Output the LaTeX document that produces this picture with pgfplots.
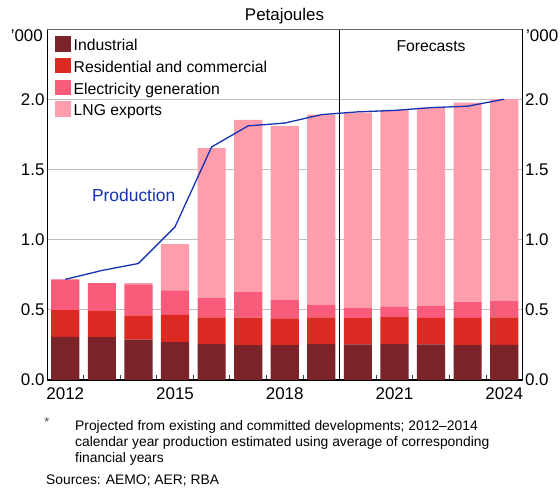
\documentclass[border=0pt]{standalone}
\usepackage{pgfplots}
\pgfplotsset{compat=1.18}
\usepackage{fontspec}
\setmainfont{Liberation Sans}
\definecolor{ind}{HTML}{7A2329}
\definecolor{res}{HTML}{DC2921}
\definecolor{ele}{HTML}{F95B7B}
\definecolor{lng}{HTML}{FE9DAB}
\definecolor{prod}{HTML}{1432B4}
\newcommand{\mainf}{\fontsize{15.8}{18}\selectfont}
\newcommand{\tickf}{\fontsize{17}{20}\selectfont}
\newcommand{\notef}{\fontsize{13.9}{16}\selectfont}
\pgfplotsset{
  sqleg/.style={legend image code/.code={\fill[##1] (0bp,-5bp) rectangle (15.5bp,10.5bp);}},
  common/.style={
    at={(47bp,108bp)}, anchor=south west,
    scale only axis, width=475.5bp, height=351bp,
    xmin=-0.5, xmax=12.5, ymin=0, ymax=2.5,
    axis line style={-, black, line width=0.8bp},
    ytick={0,0.5,1,1.5,2},
    yticklabel style={/pgf/number format/fixed, /pgf/number format/fixed zerofill, /pgf/number format/precision=1},
    /pgf/number format/assume math mode=true,
    tick label style={font=\tickf},
    major tick length=0pt,
  }
}
\begin{document}
\begin{tikzpicture}
\path[use as bounding box] (0bp,0bp) rectangle (560bp,488bp);
\begin{axis}[
  common,
  ybar stacked, bar width=0.77,
  axis x line*=bottom, axis y line*=left,
  xtick={0,3,6,9,12}, xticklabels={2012,2015,2018,2021,2024},
  minor xtick={0.5,1.5,...,11.5},
  minor tick length=5bp, tick align=inside,
  minor tick style={black!75, line width=0.8bp},
  xticklabel style={/tikz/yshift=-4.5bp},
  yticklabel style={/tikz/xshift=1bp},
  ymajorgrids, grid style={black!25, line width=0.8bp},
  legend style={at={(rel axis cs:0,1)}, anchor=north west, xshift=8bp, yshift=-7bp,
    draw=none, fill=none, inner sep=0pt, font=\mainf,
    nodes={inner sep=0pt, text height=11.5bp, text depth=3.5bp},
    row sep=3.7bp, column sep=3bp},
  legend cell align=left,
]
\addplot[fill=ind, draw=none, sqleg] coordinates {(0,0.308) (1,0.306) (2,0.287) (3,0.270) (4,0.256) (5,0.249) (6,0.249) (7,0.256) (8,0.254) (9,0.256) (10,0.254) (11,0.249) (12,0.251)};
\addlegendentry{Industrial}
\addplot[fill=res, draw=none, sqleg] coordinates {(0,0.190) (1,0.185) (2,0.173) (3,0.193) (4,0.190) (5,0.195) (6,0.190) (7,0.190) (8,0.187) (9,0.192) (10,0.189) (11,0.194) (12,0.195)};
\addlegendentry{Residential and commercial}
\addplot[fill=ele, draw=none, sqleg] coordinates {(0,0.219) (1,0.199) (2,0.221) (3,0.175) (4,0.138) (5,0.182) (6,0.130) (7,0.090) (8,0.071) (9,0.072) (10,0.084) (11,0.112) (12,0.119)};
\addlegendentry{Electricity generation}
\addplot[fill=lng, draw=none, sqleg] coordinates {(0,0) (1,0) (2,0.009) (3,0.330) (4,1.067) (5,1.227) (6,1.241) (7,1.354) (8,1.393) (9,1.404) (10,1.413) (11,1.421) (12,1.435)};
\addlegendentry{LNG exports}
\draw[black!60, line width=0.8bp] (rel axis cs:0,1) -- (rel axis cs:1,1);
\draw[black, line width=0.8bp] (axis cs:7.5,0) -- (axis cs:7.5,2.5);
\draw[black, line width=1.3bp] (rel axis cs:0,0) -- (rel axis cs:1,0);
\node[font=\mainf] at (axis cs:10,2.38) {Forecasts};
\node[font=\fontsize{17.5}{20}\selectfont, text=prod] at (axis cs:1.87,1.317) {Production};
\end{axis}
\begin{axis}[
  common,
  axis x line=none, axis y line*=right,
  yticklabel style={/tikz/xshift=-1bp},
]
\addplot[prod, line width=1.3bp, mark=none] coordinates {(0,0.717) (1,0.78) (2,0.83) (3,1.091) (4,1.66) (5,1.81) (6,1.83) (7,1.89) (8,1.91) (9,1.92) (10,1.94) (11,1.95) (12,2.0)};
\end{axis}
\node[anchor=base, font=\fontsize{17}{20}\selectfont] at (284.5bp,467bp) {Petajoules};
\node[anchor=north east, inner sep=0pt, font=\tickf] at (43bp,459bp) {’000};
\node[anchor=north west, inner sep=0pt, font=\tickf] at (526bp,459bp) {’000};
\node[anchor=center, inner sep=0pt, font=\fontsize{13}{14}\selectfont, text=black!70] at (47bp,66bp) {*};
\node[anchor=base west, inner sep=0pt, font=\notef] at (75bp,57bp) {Projected from existing and committed developments; 2012–2014};
\node[anchor=base west, inner sep=0pt, font=\notef] at (75bp,41bp) {calendar year production estimated using average of corresponding};
\node[anchor=base west, inner sep=0pt, font=\notef] at (75bp,25.5bp) {financial years};
\node[anchor=base west, inner sep=0pt, font=\notef] at (46bp,3.5bp) {Sources: AEMO; AER; RBA};
\end{tikzpicture}
\end{document}
